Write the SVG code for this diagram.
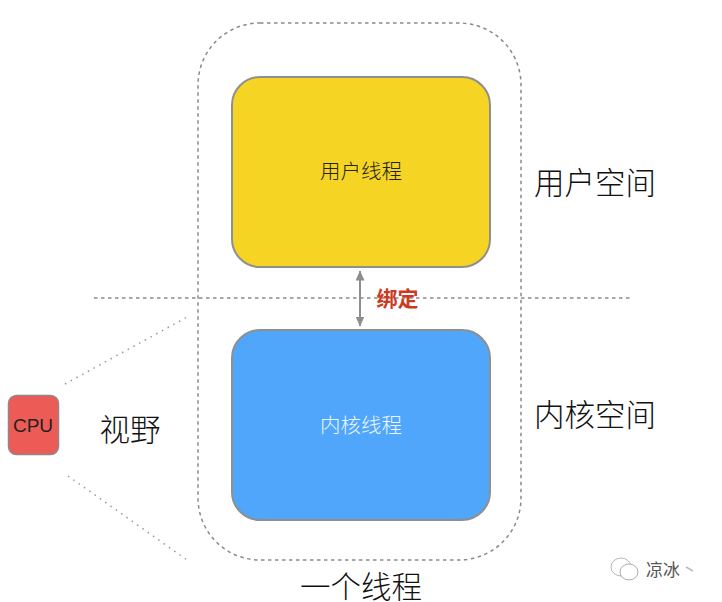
<svg xmlns="http://www.w3.org/2000/svg" width="722" height="602" viewBox="0 0 722 602">
<defs>
<marker id="arr" viewBox="0 0 10 9" refX="9.500" refY="4.500" markerWidth="10" markerHeight="9" markerUnits="userSpaceOnUse" orient="auto-start-reverse"><path d="M0 0L10 4.500L0 9Z" fill="#8e8e8e"/></marker>
</defs>
<style>
text{font-family:"Noto Sans CJK SC","Liberation Sans",sans-serif;text-anchor:middle}
.big{font-size:30.500px;font-weight:300;fill:#111}
.mid{font-size:20.500px;font-weight:300}
.dash{fill:none;stroke:#8a8a8a;stroke-width:1.500;stroke-dasharray:3.500 3.500}
.dot{fill:none;stroke:#9a9a9a;stroke-width:1.500;stroke-dasharray:1.500 5}
.box{stroke:#8f8f8f;stroke-width:2}
</style>
<rect width="722" height="602" fill="#fff"/>
<g id="connectors">
<rect class="dash" x="198" y="23" width="323" height="537" rx="62"/>
<line class="dash" x1="94" y1="298" x2="631" y2="298"/>
<line class="dot" x1="65" y1="384" x2="189" y2="316"/>
<line class="dot" x1="68" y1="476" x2="190" y2="562"/>
<line x1="360" y1="271" x2="360" y2="326" stroke="#8e8e8e" stroke-width="2" marker-start="url(#arr)" marker-end="url(#arr)"/>
</g>
<g id="user-thread"><rect class="box" x="232" y="77" width="258" height="190" rx="28" fill="#f5d423"/><text class="mid" x="361" y="179" fill="#222">用户线程</text></g>
<g id="kernel-thread"><rect class="box" x="232" y="330" width="258" height="190" rx="28" fill="#4fa6fa"/><text class="mid" x="361" y="433" fill="#eef6ff">内核线程</text></g>
<g id="cpu"><rect x="8.500" y="395.500" width="50" height="59" rx="8" fill="#ec5b56" stroke="#95858a" stroke-width="1.500"/><text x="33" y="432" font-size="19" fill="#222" style="font-family:'Liberation Sans',sans-serif;font-weight:400">CPU</text></g>
<g id="binding-label"><text x="397.500" y="306" font-size="21" font-weight="700" fill="#cc3a22">绑定</text></g>
<g id="labels">
<text class="big" x="595" y="194">用户空间</text>
<text class="big" x="595" y="426">内核空间</text>
<text class="big" x="130" y="441">视野</text>
<text class="big" x="361" y="598">一个线程</text>
</g>
<g id="watermark">
<ellipse cx="621" cy="567" rx="10" ry="9" fill="#fff" stroke="#999" stroke-width="0.700"/>
<ellipse cx="629" cy="572" rx="9" ry="8" fill="#fff" stroke="#888" stroke-width="0.700"/>
<text x="663" y="576" font-size="17" fill="#555">凉冰</text>
<line x1="686" y1="567" x2="693" y2="571" stroke="#bbb" stroke-width="1.500"/>
</g>
</svg>
